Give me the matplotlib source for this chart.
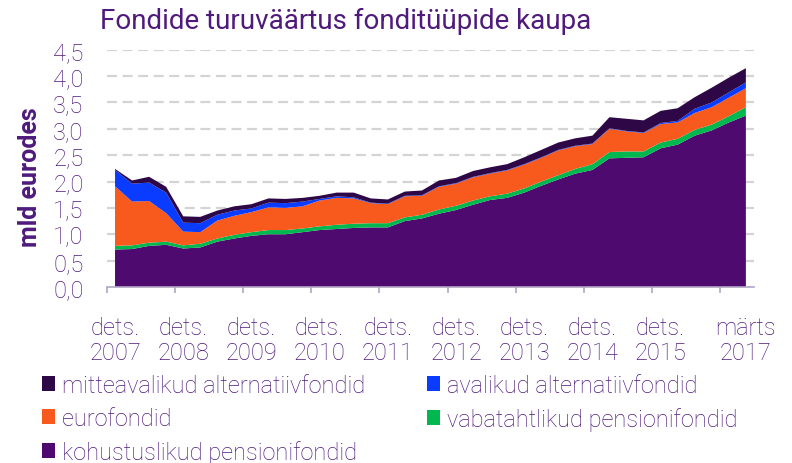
import matplotlib
matplotlib.use("Agg")
import matplotlib.pyplot as plt
from matplotlib.patches import Patch
import numpy as np

# ---- data (mld eurodes), quarterly dets. 2007 .. märts 2017 ----
kohustuslikud = [0.71, 0.72, 0.78, 0.80, 0.73, 0.75, 0.86, 0.92, 0.97, 1.00,
                 1.00, 1.04, 1.08, 1.10, 1.12, 1.13, 1.13, 1.25, 1.30, 1.39,
                 1.46, 1.56, 1.65, 1.69, 1.79, 1.92, 2.04, 2.15, 2.22, 2.44,
                 2.45, 2.46, 2.63, 2.70, 2.87, 2.97, 3.12, 3.25]
vabatahtlikud = [0.07, 0.07, 0.06, 0.06, 0.06, 0.07, 0.06, 0.07, 0.07, 0.08,
                 0.08, 0.07, 0.07, 0.08, 0.08, 0.08, 0.08, 0.07, 0.07, 0.08,
                 0.08, 0.08, 0.07, 0.08, 0.08, 0.08, 0.08, 0.09, 0.11, 0.12,
                 0.12, 0.11, 0.11, 0.11, 0.11, 0.11, 0.12, 0.16]
eurofondid = [1.13, 0.83, 0.79, 0.54, 0.26, 0.22, 0.34, 0.36, 0.38, 0.43,
              0.42, 0.42, 0.49, 0.51, 0.48, 0.38, 0.36, 0.40, 0.36, 0.43,
              0.42, 0.44, 0.43, 0.44, 0.45, 0.45, 0.47, 0.43, 0.38, 0.44,
              0.38, 0.35, 0.35, 0.31, 0.32, 0.33, 0.35, 0.36]
avalikud = [0.31, 0.34, 0.35, 0.39, 0.17, 0.17, 0.11, 0.10, 0.07, 0.09,
            0.09, 0.09, 0.03, 0.03, 0.02, 0.01, 0.01, 0.01, 0.01, 0.01,
            0.01, 0.01, 0.01, 0.01, 0.01, 0.01, 0.01, 0.01, 0.01, 0.01,
            0.01, 0.01, 0.02, 0.03, 0.08, 0.09, 0.10, 0.11]
mitteavalikud = [0.02, 0.06, 0.11, 0.11, 0.12, 0.12, 0.08, 0.08, 0.08, 0.08,
                 0.08, 0.07, 0.06, 0.07, 0.09, 0.08, 0.08, 0.08, 0.09, 0.11,
                 0.10, 0.11, 0.11, 0.11, 0.13, 0.14, 0.14, 0.14, 0.15, 0.21,
                 0.23, 0.23, 0.23, 0.24, 0.22, 0.28, 0.28, 0.27]

tick_positions = [0, 4, 8, 12, 16, 20, 24, 28, 32, 37]
tick_labels = ["dets.\n2007", "dets.\n2008", "dets.\n2009", "dets.\n2010",
               "dets.\n2011", "dets.\n2012", "dets.\n2013", "dets.\n2014",
               "dets.\n2015", "märts\n2017"]
y_ticks = [0.0, 0.5, 1.0, 1.5, 2.0, 2.5, 3.0, 3.5, 4.0, 4.5]

names = ["kohustuslikud pensionifondid", "vabatahtlikud pensionifondid",
         "eurofondid", "avalikud alternatiivfondid", "mitteavalikud alternatiivfondid"]
colors = ["#4f0a70", "#00b84f", "#f85a1e", "#0a3cff", "#2e0846"]

TXT = "#4e1a7c"
FONT = ["Roboto", "DejaVu Sans"]
plt.rcParams["font.family"] = FONT

n = len(kohustuslikud)
x = np.arange(n)

fig = plt.figure(figsize=(7.92, 4.64), dpi=100)
ax = fig.add_axes([106.5 / 792, 1 - 288 / 464, (754.4 - 106.5) / 792, (288 - 50.7) / 464])

ax.stackplot(x, kohustuslikud, vabatahtlikud, eurofondid, avalikud, mitteavalikud,
             colors=colors, linewidth=0, zorder=3)

ax.set_xlim(-0.5, n - 0.5)
ax.set_ylim(0, 4.5)

for yv in y_ticks[1:]:
    ax.axhline(yv, color="#d4d4d4", lw=1.6, dashes=(4.5, 2.5), zorder=1)

ax.set_yticks(y_ticks)
ax.set_yticklabels([f"{v:.1f}".replace(".", ",") for v in y_ticks])
ax.tick_params(axis="y", length=0, pad=16.5, labelsize=17, labelcolor=TXT)
for t in ax.get_yticklabels():
    t.set_fontweight("light")

ax.set_xticks(np.arange(-0.5, n, 4))
ax.set_xticklabels([])
ax.tick_params(axis="x", which="major", direction="out", length=4.5, width=1.2, color="#b0a6c4")
ax.set_xticks(tick_positions, minor=True)
ax.set_xticklabels(tick_labels, minor=True)
ax.tick_params(axis="x", which="minor", length=0, pad=21, labelsize=17, labelcolor=TXT)
for t in ax.get_xticklabels(minor=True):
    t.set_linespacing(1.1)
    t.set_fontweight("light")

for s in ["left", "right", "top"]:
    ax.spines[s].set_visible(False)
ax.spines["bottom"].set_color("#b0a6c4")
ax.spines["bottom"].set_linewidth(1.2)
ax.spines["bottom"].set_zorder(4)

fig.text(30 / 792, 1 - 177 / 464, "mld eurodes", rotation=90, ha="center", va="center",
         fontsize=18, color=TXT, fontweight="bold")
fig.text(100 / 792, 1 - 21 / 464, "Fondide turuväärtus fonditüüpide kaupa",
         ha="left", va="center", fontsize=20, color=TXT)

order = [4, 2, 0, 3, 1]
handles = [Patch(facecolor=colors[i], edgecolor="none") for i in order]
labels = [names[i] for i in order]
leg = fig.legend(handles, labels, loc="upper left", bbox_to_anchor=(42 / 792, 1 - 375 / 464),
                 ncol=2, frameon=False, fontsize=17, labelcolor=TXT,
                 handlelength=0.55, handleheight=0.62, handletextpad=0.3,
                 columnspacing=2.6, labelspacing=0.42, borderaxespad=0, borderpad=0)
for t in leg.get_texts():
    t.set_fontweight("light")

fig.savefig("out.png", dpi=100)
